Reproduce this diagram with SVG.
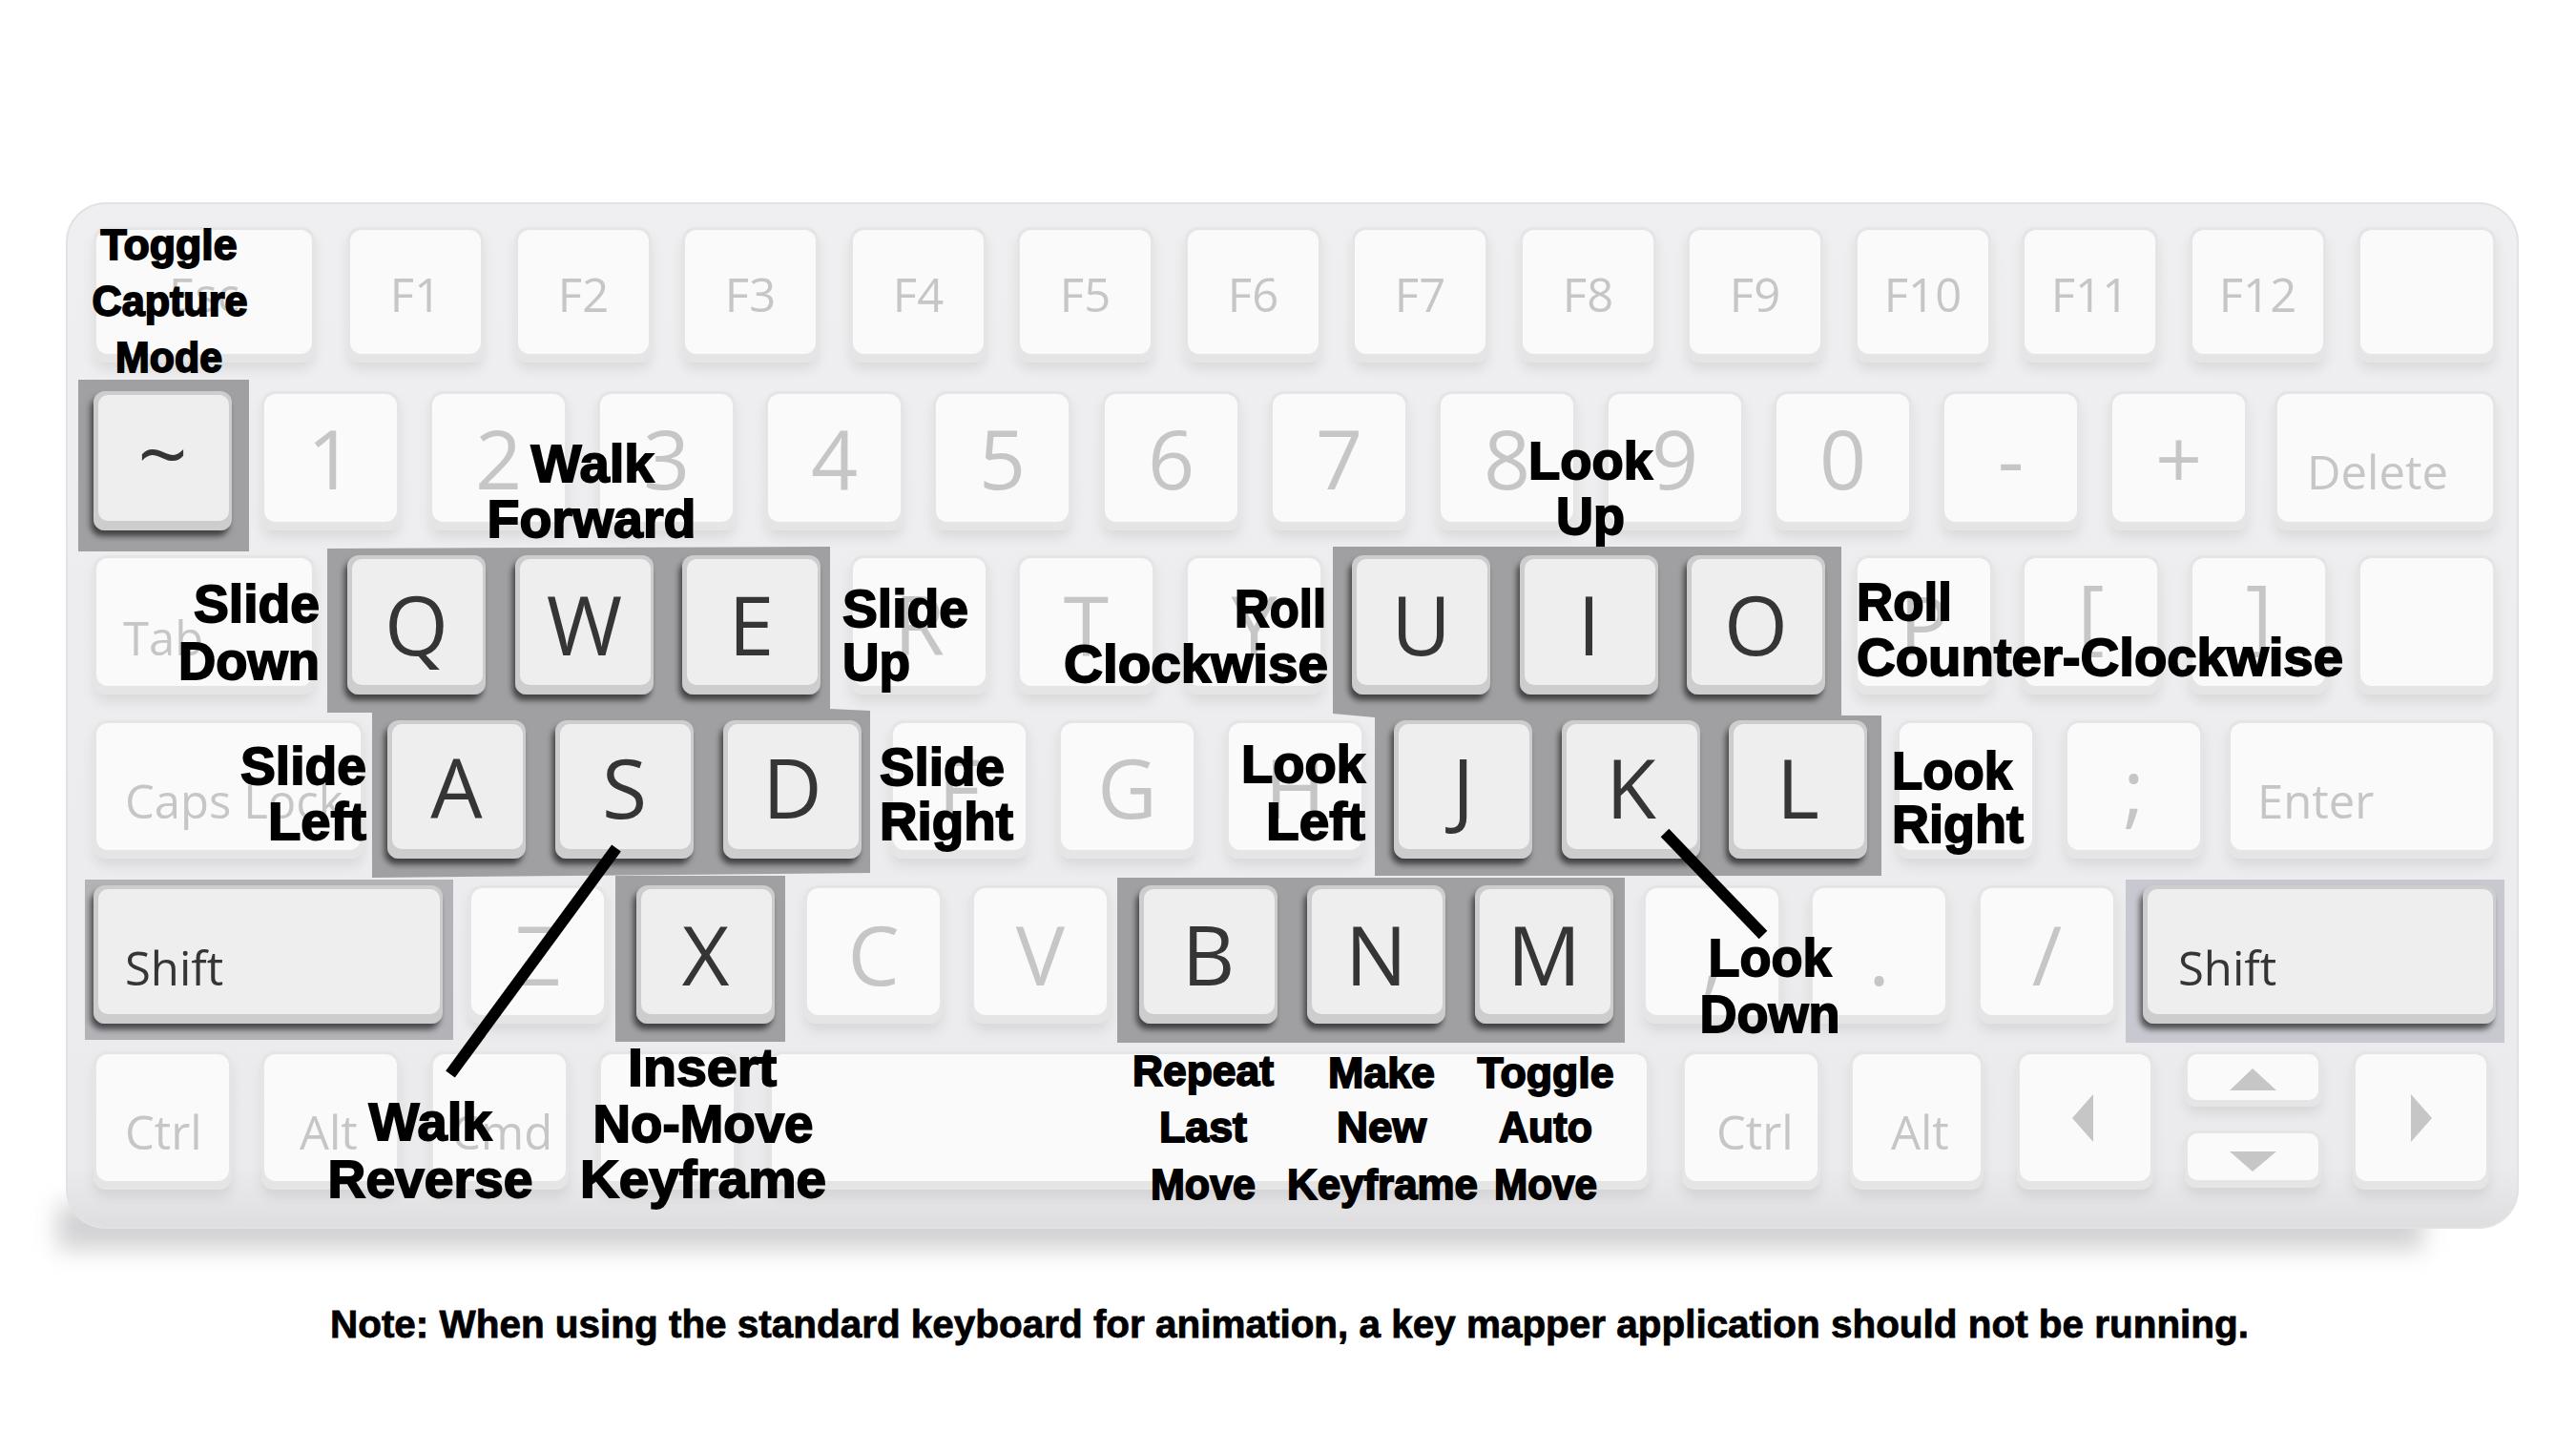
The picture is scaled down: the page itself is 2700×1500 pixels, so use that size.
<svg xmlns="http://www.w3.org/2000/svg" width="2700" height="1500" viewBox="0 0 2700 1500">
<defs>
<style>
.kb{fill:#e5e5e6}
.kf{fill:#fafafa}
.hb{fill:#cdcdcd}
.hf{fill:#eeeeee}
.lab{font-family:"Open Sans","Noto Sans",sans-serif;fill:#c6c6c6;text-anchor:middle}
.big{font-size:86px}
.sm{font-size:49px}
.dk{fill:#363636}
.st{text-anchor:start}
.a{font-family:"Liberation Sans",Arial,sans-serif;font-weight:bold;fill:#000;stroke:#000;stroke-width:1.8px;font-size:56px}
.as{font-size:45px}
.at{font-size:44px}
.an{font-size:40px;stroke-width:0.8px}
.am{text-anchor:middle}
.ae{text-anchor:end}
.hl{fill:#a0a0a3}
.conn{stroke:#000;stroke-width:12;fill:none}
</style>
<filter id="ks" x="-20%" y="-20%" width="140%" height="150%"><feDropShadow dx="0" dy="8" stdDeviation="6" flood-color="#000" flood-opacity="0.08"/></filter>
<filter id="hs" x="-20%" y="-20%" width="140%" height="150%"><feDropShadow dx="-3" dy="6" stdDeviation="3" flood-color="#000" flood-opacity="0.6"/></filter>
<filter id="bs" x="-10%" y="-80%" width="120%" height="260%"><feGaussianBlur stdDeviation="12"/></filter>
<linearGradient id="bg" x1="0" y1="0" x2="0" y2="1"><stop offset="0" stop-color="#efeff1"/><stop offset="0.94" stop-color="#ebebed"/><stop offset="1" stop-color="#dedee0"/></linearGradient>
</defs>
<rect width="2700" height="1500" fill="#fff"/>
<g id="keyboard-body">
<rect x="60" y="1262" width="2480" height="48" fill="#d2d2d4" filter="url(#bs)"/>
<rect x="69" y="212" width="2571" height="1076" rx="42" fill="url(#bg)"/>
<rect x="70" y="213" width="2569" height="1074" rx="41" fill="none" stroke="#e2e2e4" stroke-width="2"/>
</g>
<g id="highlights">
<rect class="hl" x="82" y="398" width="179" height="180"/>
<polygon class="hl" points="343,575 870,573 870,743 912,745 912,915 390,920 390,747 343,747"/>
<polygon class="hl" points="1397,573 1930,573 1930,750 1972,750 1972,918 1441,918 1441,752 1397,748"/>
<rect class="hl" x="645" y="918" width="178" height="174"/>
<rect class="hl" x="1171" y="920" width="532" height="173"/>
<rect x="89" y="922" width="386" height="168" fill="#b2b2b7"/>
<rect x="2228" y="922" width="397" height="171" fill="#c8c9d0"/>
</g>
<g id="row1" filter="url(#ks)">
<g id="key-esc"><rect class="kb" x="98" y="238" width="232" height="142" rx="14"/><rect class="kf" x="101" y="241" width="226" height="130" rx="12"/><text class="lab sm" x="214" y="327">Esc</text></g>
<g id="key-f1"><rect class="kb" x="364" y="238" width="143" height="142" rx="14"/><rect class="kf" x="367" y="241" width="137" height="130" rx="12"/><text class="lab sm" x="435.5" y="327">F1</text></g>
<g id="key-f2"><rect class="kb" x="540" y="238" width="143" height="142" rx="14"/><rect class="kf" x="543" y="241" width="137" height="130" rx="12"/><text class="lab sm" x="611.5" y="327">F2</text></g>
<g id="key-f3"><rect class="kb" x="715" y="238" width="143" height="142" rx="14"/><rect class="kf" x="718" y="241" width="137" height="130" rx="12"/><text class="lab sm" x="786.5" y="327">F3</text></g>
<g id="key-f4"><rect class="kb" x="891" y="238" width="143" height="142" rx="14"/><rect class="kf" x="894" y="241" width="137" height="130" rx="12"/><text class="lab sm" x="962.5" y="327">F4</text></g>
<g id="key-f5"><rect class="kb" x="1066" y="238" width="143" height="142" rx="14"/><rect class="kf" x="1069" y="241" width="137" height="130" rx="12"/><text class="lab sm" x="1137.5" y="327">F5</text></g>
<g id="key-f6"><rect class="kb" x="1242" y="238" width="143" height="142" rx="14"/><rect class="kf" x="1245" y="241" width="137" height="130" rx="12"/><text class="lab sm" x="1313.5" y="327">F6</text></g>
<g id="key-f7"><rect class="kb" x="1417" y="238" width="143" height="142" rx="14"/><rect class="kf" x="1420" y="241" width="137" height="130" rx="12"/><text class="lab sm" x="1488.5" y="327">F7</text></g>
<g id="key-f8"><rect class="kb" x="1593" y="238" width="143" height="142" rx="14"/><rect class="kf" x="1596" y="241" width="137" height="130" rx="12"/><text class="lab sm" x="1664.5" y="327">F8</text></g>
<g id="key-f9"><rect class="kb" x="1768" y="238" width="143" height="142" rx="14"/><rect class="kf" x="1771" y="241" width="137" height="130" rx="12"/><text class="lab sm" x="1839.5" y="327">F9</text></g>
<g id="key-f10"><rect class="kb" x="1944" y="238" width="143" height="142" rx="14"/><rect class="kf" x="1947" y="241" width="137" height="130" rx="12"/><text class="lab sm" x="2015.5" y="327">F10</text></g>
<g id="key-f11"><rect class="kb" x="2119" y="238" width="143" height="142" rx="14"/><rect class="kf" x="2122" y="241" width="137" height="130" rx="12"/><text class="lab sm" x="2190.5" y="327">F11</text></g>
<g id="key-f12"><rect class="kb" x="2295" y="238" width="143" height="142" rx="14"/><rect class="kf" x="2298" y="241" width="137" height="130" rx="12"/><text class="lab sm" x="2366.5" y="327">F12</text></g>
<g id="key-r1end"><rect class="kb" x="2471" y="238" width="145" height="142" rx="14"/><rect class="kf" x="2474" y="241" width="139" height="130" rx="12"/></g>
</g>
<g id="row2" filter="url(#ks)">
<g id="key-1"><rect class="kb" x="274" y="410" width="145" height="146" rx="14"/><rect class="kf" x="277" y="413" width="139" height="134" rx="12"/><text class="lab big" x="346.5" y="513">1</text></g>
<g id="key-2"><rect class="kb" x="450" y="410" width="145" height="146" rx="14"/><rect class="kf" x="453" y="413" width="139" height="134" rx="12"/><text class="lab big" x="522.5" y="513">2</text></g>
<g id="key-3"><rect class="kb" x="626" y="410" width="145" height="146" rx="14"/><rect class="kf" x="629" y="413" width="139" height="134" rx="12"/><text class="lab big" x="698.5" y="513">3</text></g>
<g id="key-4"><rect class="kb" x="802" y="410" width="145" height="146" rx="14"/><rect class="kf" x="805" y="413" width="139" height="134" rx="12"/><text class="lab big" x="874.5" y="513">4</text></g>
<g id="key-5"><rect class="kb" x="978" y="410" width="145" height="146" rx="14"/><rect class="kf" x="981" y="413" width="139" height="134" rx="12"/><text class="lab big" x="1050.5" y="513">5</text></g>
<g id="key-6"><rect class="kb" x="1155" y="410" width="145" height="146" rx="14"/><rect class="kf" x="1158" y="413" width="139" height="134" rx="12"/><text class="lab big" x="1227.5" y="513">6</text></g>
<g id="key-7"><rect class="kb" x="1331" y="410" width="145" height="146" rx="14"/><rect class="kf" x="1334" y="413" width="139" height="134" rx="12"/><text class="lab big" x="1403.5" y="513">7</text></g>
<g id="key-8"><rect class="kb" x="1507" y="410" width="145" height="146" rx="14"/><rect class="kf" x="1510" y="413" width="139" height="134" rx="12"/><text class="lab big" x="1579.5" y="513">8</text></g>
<g id="key-9"><rect class="kb" x="1683" y="410" width="145" height="146" rx="14"/><rect class="kf" x="1686" y="413" width="139" height="134" rx="12"/><text class="lab big" x="1755.5" y="513">9</text></g>
<g id="key-0"><rect class="kb" x="1859" y="410" width="145" height="146" rx="14"/><rect class="kf" x="1862" y="413" width="139" height="134" rx="12"/><text class="lab big" x="1931.5" y="513">0</text></g>
<g id="key-minus"><rect class="kb" x="2035" y="410" width="145" height="146" rx="14"/><rect class="kf" x="2038" y="413" width="139" height="134" rx="12"/><text class="lab big" x="2107.5" y="513">-</text></g>
<g id="key-plus"><rect class="kb" x="2211" y="410" width="145" height="146" rx="14"/><rect class="kf" x="2214" y="413" width="139" height="134" rx="12"/><text class="lab big" x="2283.5" y="513">+</text></g>
<g id="key-delete"><rect class="kb" x="2384" y="410" width="232" height="146" rx="14"/><rect class="kf" x="2387" y="413" width="226" height="134" rx="12"/><text class="lab sm st" x="2418" y="513">Delete</text></g>
</g>
<g id="row3" filter="url(#ks)">
<g id="key-tab"><rect class="kb" x="98" y="582" width="232" height="146" rx="14"/><rect class="kf" x="101" y="585" width="226" height="134" rx="12"/><text class="lab sm st" x="129" y="687">Tab</text></g>
<g id="key-r"><rect class="kb" x="891" y="582" width="145" height="146" rx="14"/><rect class="kf" x="894" y="585" width="139" height="134" rx="12"/><text class="lab big" x="963.5" y="687">R</text></g>
<g id="key-t"><rect class="kb" x="1066" y="582" width="145" height="146" rx="14"/><rect class="kf" x="1069" y="585" width="139" height="134" rx="12"/><text class="lab big" x="1138.5" y="687">T</text></g>
<g id="key-y"><rect class="kb" x="1242" y="582" width="145" height="146" rx="14"/><rect class="kf" x="1245" y="585" width="139" height="134" rx="12"/><text class="lab big" x="1314.5" y="687">Y</text></g>
<g id="key-p"><rect class="kb" x="1944" y="582" width="145" height="146" rx="14"/><rect class="kf" x="1947" y="585" width="139" height="134" rx="12"/><text class="lab big" x="2016.5" y="687">P</text></g>
<g id="key-lbr"><rect class="kb" x="2119" y="582" width="145" height="146" rx="14"/><rect class="kf" x="2122" y="585" width="139" height="134" rx="12"/><text class="lab big" x="2191.5" y="675">[</text></g>
<g id="key-rbr"><rect class="kb" x="2295" y="582" width="145" height="146" rx="14"/><rect class="kf" x="2298" y="585" width="139" height="134" rx="12"/><text class="lab big" x="2367.5" y="675">]</text></g>
<g id="key-r3end"><rect class="kb" x="2471" y="582" width="145" height="146" rx="14"/><rect class="kf" x="2474" y="585" width="139" height="134" rx="12"/></g>
</g>
<g id="row4" filter="url(#ks)">
<g id="key-caps"><rect class="kb" x="98" y="755" width="283" height="145" rx="14"/><rect class="kf" x="101" y="758" width="277" height="133" rx="12"/><text class="lab sm st" x="131" y="858">Caps Lock</text></g>
<g id="key-f"><rect class="kb" x="933" y="755" width="145" height="145" rx="14"/><rect class="kf" x="936" y="758" width="139" height="133" rx="12"/><text class="lab big" x="1005.5" y="858">F</text></g>
<g id="key-g"><rect class="kb" x="1109" y="755" width="145" height="145" rx="14"/><rect class="kf" x="1112" y="758" width="139" height="133" rx="12"/><text class="lab big" x="1181.5" y="858">G</text></g>
<g id="key-h"><rect class="kb" x="1285" y="755" width="145" height="145" rx="14"/><rect class="kf" x="1288" y="758" width="139" height="133" rx="12"/><text class="lab big" x="1357.5" y="858">H</text></g>
<g id="key-r4blank"><rect class="kb" x="1988" y="755" width="145" height="145" rx="14"/><rect class="kf" x="1991" y="758" width="139" height="133" rx="12"/></g>
<g id="key-semi"><rect class="kb" x="2164" y="755" width="145" height="145" rx="14"/><rect class="kf" x="2167" y="758" width="139" height="133" rx="12"/><text class="lab big" x="2236.5" y="858">;</text></g>
<g id="key-enter"><rect class="kb" x="2335" y="755" width="281" height="145" rx="14"/><rect class="kf" x="2338" y="758" width="275" height="133" rx="12"/><text class="lab sm st" x="2366" y="858">Enter</text></g>
</g>
<g id="row5" filter="url(#ks)">
<g id="key-z"><rect class="kb" x="491" y="928" width="145" height="145" rx="14"/><rect class="kf" x="494" y="931" width="139" height="133" rx="12"/><text class="lab big" x="563.5" y="1033">Z</text></g>
<g id="key-c"><rect class="kb" x="843" y="928" width="145" height="145" rx="14"/><rect class="kf" x="846" y="931" width="139" height="133" rx="12"/><text class="lab big" x="915.5" y="1033">C</text></g>
<g id="key-v"><rect class="kb" x="1018" y="928" width="145" height="145" rx="14"/><rect class="kf" x="1021" y="931" width="139" height="133" rx="12"/><text class="lab big" x="1090.5" y="1033">V</text></g>
<g id="key-comma"><rect class="kb" x="1722" y="928" width="145" height="145" rx="14"/><rect class="kf" x="1725" y="931" width="139" height="133" rx="12"/><text class="lab big" x="1794.5" y="1033">,</text></g>
<g id="key-period"><rect class="kb" x="1897" y="928" width="145" height="145" rx="14"/><rect class="kf" x="1900" y="931" width="139" height="133" rx="12"/><text class="lab big" x="1969.5" y="1033">.</text></g>
<g id="key-slash"><rect class="kb" x="2073" y="928" width="145" height="145" rx="14"/><rect class="kf" x="2076" y="931" width="139" height="133" rx="12"/><text class="lab big" x="2145.5" y="1033">/</text></g>
</g>
<g id="row6" filter="url(#ks)">
<g id="key-ctrl"><rect class="kb" x="98" y="1102" width="145" height="145" rx="14"/><rect class="kf" x="101" y="1105" width="139" height="133" rx="12"/><text class="lab sm st" x="131" y="1205">Ctrl</text></g>
<g id="key-alt"><rect class="kb" x="274" y="1102" width="145" height="145" rx="14"/><rect class="kf" x="277" y="1105" width="139" height="133" rx="12"/><text class="lab sm st" x="314" y="1205">Alt</text></g>
<g id="key-cmd"><rect class="kb" x="451" y="1102" width="145" height="145" rx="14"/><rect class="kf" x="454" y="1105" width="139" height="133" rx="12"/><text class="lab sm st" x="473" y="1205">Cmd</text></g>
<g id="key-cmd2"><rect class="kb" x="627" y="1102" width="145" height="145" rx="14"/><rect class="kf" x="630" y="1105" width="139" height="133" rx="12"/></g>
<g id="key-space"><rect class="kb" x="806" y="1102" width="923" height="145" rx="14"/><rect class="kf" x="809" y="1105" width="917" height="133" rx="12"/></g>
<g id="key-ctrl2"><rect class="kb" x="1763" y="1102" width="145" height="145" rx="14"/><rect class="kf" x="1766" y="1105" width="139" height="133" rx="12"/><text class="lab sm st" x="1799" y="1205">Ctrl</text></g>
<g id="key-alt2"><rect class="kb" x="1939" y="1102" width="140" height="145" rx="14"/><rect class="kf" x="1942" y="1105" width="134" height="133" rx="12"/><text class="lab sm st" x="1982" y="1205">Alt</text></g>
<g id="key-left"><rect class="kb" x="2114" y="1102" width="143" height="145" rx="14"/><rect class="kf" x="2117" y="1105" width="137" height="133" rx="12"/><polygon points="2172,1172 2194,1147 2194,1197" fill="#c6c6c6"/></g>
<g id="key-up"><rect class="kb" x="2290" y="1102" width="143" height="58" rx="12"/><rect class="kf" x="2293" y="1105" width="137" height="48" rx="10"/><polygon points="2337,1143 2361,1120 2386,1143" fill="#c6c6c6"/></g>
<g id="key-down"><rect class="kb" x="2290" y="1185" width="143" height="60" rx="12"/><rect class="kf" x="2293" y="1188" width="137" height="49" rx="10"/><polygon points="2337,1207 2386,1207 2361,1228" fill="#c6c6c6"/></g>
<g id="key-right"><rect class="kb" x="2466" y="1102" width="143" height="145" rx="14"/><rect class="kf" x="2469" y="1105" width="137" height="133" rx="12"/><polygon points="2527,1147 2549,1172 2527,1197" fill="#c6c6c6"/></g>
</g>
<g id="active-keys">
<g id="key-tilde" filter="url(#hs)"><rect class="hb" x="98" y="410" width="145" height="146" rx="12"/><rect class="hf" x="103" y="414" width="137" height="132" rx="10"/><text class="lab dk" x="170.5" y="510" font-size="92">~</text></g>
<g id="key-q" filter="url(#hs)"><rect class="hb" x="364" y="582" width="145" height="146" rx="12"/><rect class="hf" x="369" y="586" width="137" height="132" rx="10"/><text class="lab big dk" x="436.5" y="687">Q</text></g>
<g id="key-w" filter="url(#hs)"><rect class="hb" x="540" y="582" width="145" height="146" rx="12"/><rect class="hf" x="545" y="586" width="137" height="132" rx="10"/><text class="lab big dk" x="612.5" y="687">W</text></g>
<g id="key-e" filter="url(#hs)"><rect class="hb" x="715" y="582" width="145" height="146" rx="12"/><rect class="hf" x="720" y="586" width="137" height="132" rx="10"/><text class="lab big dk" x="787.5" y="687">E</text></g>
<g id="key-u" filter="url(#hs)"><rect class="hb" x="1417" y="582" width="145" height="146" rx="12"/><rect class="hf" x="1422" y="586" width="137" height="132" rx="10"/><text class="lab big dk" x="1489.5" y="687">U</text></g>
<g id="key-i" filter="url(#hs)"><rect class="hb" x="1593" y="582" width="145" height="146" rx="12"/><rect class="hf" x="1598" y="586" width="137" height="132" rx="10"/><text class="lab big dk" x="1665.5" y="687">I</text></g>
<g id="key-o" filter="url(#hs)"><rect class="hb" x="1768" y="582" width="145" height="146" rx="12"/><rect class="hf" x="1773" y="586" width="137" height="132" rx="10"/><text class="lab big dk" x="1840.5" y="687">O</text></g>
<g id="key-a" filter="url(#hs)"><rect class="hb" x="406" y="755" width="145" height="145" rx="12"/><rect class="hf" x="411" y="759" width="137" height="131" rx="10"/><text class="lab big dk" x="478.5" y="858">A</text></g>
<g id="key-s" filter="url(#hs)"><rect class="hb" x="582" y="755" width="145" height="145" rx="12"/><rect class="hf" x="587" y="759" width="137" height="131" rx="10"/><text class="lab big dk" x="654.5" y="858">S</text></g>
<g id="key-d" filter="url(#hs)"><rect class="hb" x="758" y="755" width="145" height="145" rx="12"/><rect class="hf" x="763" y="759" width="137" height="131" rx="10"/><text class="lab big dk" x="830.5" y="858">D</text></g>
<g id="key-j" filter="url(#hs)"><rect class="hb" x="1461" y="755" width="145" height="145" rx="12"/><rect class="hf" x="1466" y="759" width="137" height="131" rx="10"/><text class="lab big dk" x="1533.5" y="858">J</text></g>
<g id="key-k" filter="url(#hs)"><rect class="hb" x="1637" y="755" width="145" height="145" rx="12"/><rect class="hf" x="1642" y="759" width="137" height="131" rx="10"/><text class="lab big dk" x="1709.5" y="858">K</text></g>
<g id="key-l" filter="url(#hs)"><rect class="hb" x="1812" y="755" width="145" height="145" rx="12"/><rect class="hf" x="1817" y="759" width="137" height="131" rx="10"/><text class="lab big dk" x="1884.5" y="858">L</text></g>
<g id="key-shift" filter="url(#hs)"><rect class="hb" x="98" y="928" width="366" height="145" rx="12"/><rect class="hf" x="103" y="932" width="358" height="131" rx="10"/><text class="lab sm dk st" x="131" y="1033">Shift</text></g>
<g id="key-x" filter="url(#hs)"><rect class="hb" x="667" y="928" width="145" height="145" rx="12"/><rect class="hf" x="672" y="932" width="137" height="131" rx="10"/><text class="lab big dk" x="739.5" y="1033">X</text></g>
<g id="key-b" filter="url(#hs)"><rect class="hb" x="1194" y="928" width="145" height="145" rx="12"/><rect class="hf" x="1199" y="932" width="137" height="131" rx="10"/><text class="lab big dk" x="1266.5" y="1033">B</text></g>
<g id="key-n" filter="url(#hs)"><rect class="hb" x="1370" y="928" width="145" height="145" rx="12"/><rect class="hf" x="1375" y="932" width="137" height="131" rx="10"/><text class="lab big dk" x="1442.5" y="1033">N</text></g>
<g id="key-m" filter="url(#hs)"><rect class="hb" x="1546" y="928" width="145" height="145" rx="12"/><rect class="hf" x="1551" y="932" width="137" height="131" rx="10"/><text class="lab big dk" x="1618.5" y="1033">M</text></g>
<g id="key-shift2" filter="url(#hs)"><rect class="hb" x="2246" y="928" width="370" height="145" rx="12"/><rect class="hf" x="2251" y="932" width="362" height="131" rx="10"/><text class="lab sm dk st" x="2283" y="1033">Shift</text></g>
</g>
<g id="connectors">
<line class="conn" x1="646" y1="889" x2="472" y2="1126"/>
<line class="conn" x1="1745" y1="873" x2="1848" y2="980"/>
</g>
<g id="annotations">
<g id="ann-tilde"><text class="a at am" x="177" y="272" textLength="143" lengthAdjust="spacingAndGlyphs">Toggle</text><text class="a at am" x="178" y="331" textLength="163" lengthAdjust="spacingAndGlyphs">Capture</text><text class="a at am" x="177" y="390" textLength="112" lengthAdjust="spacingAndGlyphs">Mode</text></g>
<g id="ann-w"><text class="a am" x="621" y="505" textLength="129" lengthAdjust="spacingAndGlyphs">Walk</text><text class="a am" x="620" y="563" textLength="219" lengthAdjust="spacingAndGlyphs">Forward</text></g>
<g id="ann-q"><text class="a ae" x="335" y="652" textLength="132" lengthAdjust="spacingAndGlyphs">Slide</text><text class="a ae" x="335" y="712" textLength="148" lengthAdjust="spacingAndGlyphs">Down</text></g>
<g id="ann-a"><text class="a ae" x="384" y="822" textLength="132" lengthAdjust="spacingAndGlyphs">Slide</text><text class="a ae" x="384" y="880" textLength="103" lengthAdjust="spacingAndGlyphs">Left</text></g>
<g id="ann-e"><text class="a" x="883" y="657" textLength="132" lengthAdjust="spacingAndGlyphs">Slide</text><text class="a" x="883" y="713" textLength="71" lengthAdjust="spacingAndGlyphs">Up</text></g>
<g id="ann-d"><text class="a" x="922" y="823" textLength="131" lengthAdjust="spacingAndGlyphs">Slide</text><text class="a" x="922" y="880" textLength="140" lengthAdjust="spacingAndGlyphs">Right</text></g>
<g id="ann-u"><text class="a ae" x="1390" y="657" textLength="96" lengthAdjust="spacingAndGlyphs">Roll</text><text class="a ae" x="1392" y="715" textLength="277" lengthAdjust="spacingAndGlyphs">Clockwise</text></g>
<g id="ann-i"><text class="a am" x="1667" y="502" textLength="130" lengthAdjust="spacingAndGlyphs">Look</text><text class="a am" x="1667" y="560" textLength="72" lengthAdjust="spacingAndGlyphs">Up</text></g>
<g id="ann-o"><text class="a" x="1946" y="650" textLength="100" lengthAdjust="spacingAndGlyphs">Roll</text><text class="a" x="1946" y="708" textLength="510" lengthAdjust="spacingAndGlyphs">Counter-Clockwise</text></g>
<g id="ann-j"><text class="a ae" x="1431" y="820" textLength="130" lengthAdjust="spacingAndGlyphs">Look</text><text class="a ae" x="1431" y="880" textLength="104" lengthAdjust="spacingAndGlyphs">Left</text></g>
<g id="ann-l"><text class="a" x="1983" y="827" textLength="126" lengthAdjust="spacingAndGlyphs">Look</text><text class="a" x="1983" y="883" textLength="138" lengthAdjust="spacingAndGlyphs">Right</text></g>
<g id="ann-k"><text class="a am" x="1855" y="1023" textLength="129" lengthAdjust="spacingAndGlyphs">Look</text><text class="a am" x="1855" y="1082" textLength="147" lengthAdjust="spacingAndGlyphs">Down</text></g>
<g id="ann-s"><text class="a am" x="451" y="1195" textLength="129" lengthAdjust="spacingAndGlyphs">Walk</text><text class="a am" x="451" y="1255" textLength="215" lengthAdjust="spacingAndGlyphs">Reverse</text></g>
<g id="ann-x"><text class="a am" x="736" y="1138" textLength="156" lengthAdjust="spacingAndGlyphs">Insert</text><text class="a am" x="737" y="1197" textLength="231" lengthAdjust="spacingAndGlyphs">No-Move</text><text class="a am" x="737" y="1255" textLength="258" lengthAdjust="spacingAndGlyphs">Keyframe</text></g>
<g id="ann-b"><text class="a as am" x="1261" y="1138" textLength="148" lengthAdjust="spacingAndGlyphs">Repeat</text><text class="a as am" x="1261" y="1197" textLength="92" lengthAdjust="spacingAndGlyphs">Last</text><text class="a as am" x="1261" y="1257" textLength="110" lengthAdjust="spacingAndGlyphs">Move</text></g>
<g id="ann-n"><text class="a as am" x="1448" y="1140" textLength="112" lengthAdjust="spacingAndGlyphs">Make</text><text class="a as am" x="1448" y="1197" textLength="94" lengthAdjust="spacingAndGlyphs">New</text><text class="a as am" x="1449" y="1257" textLength="200" lengthAdjust="spacingAndGlyphs">Keyframe</text></g>
<g id="ann-m"><text class="a as am" x="1620" y="1140" textLength="143" lengthAdjust="spacingAndGlyphs">Toggle</text><text class="a as am" x="1620" y="1197" textLength="98" lengthAdjust="spacingAndGlyphs">Auto</text><text class="a as am" x="1620" y="1257" textLength="108" lengthAdjust="spacingAndGlyphs">Move</text></g>
</g>
<g id="note"><text class="a an" x="346" y="1402" textLength="2011" lengthAdjust="spacingAndGlyphs">Note: When using the standard keyboard for animation, a key mapper application should not be running.</text></g>
</svg>
